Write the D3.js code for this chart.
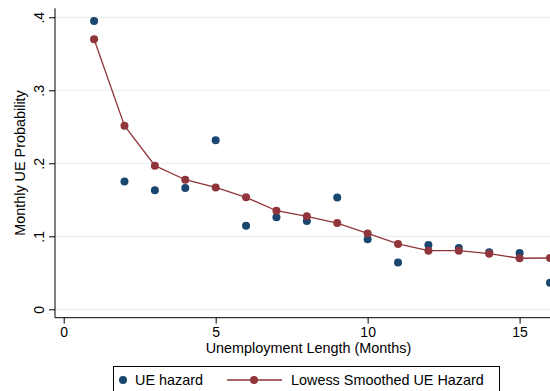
<!DOCTYPE html>
<html lang="en">
  <head>
    <meta charset="utf-8">
    <title>UE hazard by unemployment length</title>
    <script src="https://d3js.org/d3.v7.js"></script>
    <style>
      body { margin: 0; background: white; }
      text { font-family: "Liberation Sans", Arial, sans-serif; }
    </style>
  </head>
  <body>
    <script>
    // data
    const months = [1, 2, 3, 4, 5, 6, 7, 8, 9, 10, 11, 12, 13, 14, 15, 16];
    const hazard = [0.395, 0.175, 0.163, 0.166, 0.2315, 0.1145, 0.126, 0.121, 0.153, 0.096, 0.064, 0.088, 0.084, 0.078, 0.077, 0.0365];
    const lowess = [0.370, 0.2515, 0.1967, 0.1775, 0.167, 0.1534, 0.135, 0.1274, 0.1182, 0.104, 0.0895, 0.0803, 0.0803, 0.0762, 0.0699, 0.0703];
    const xTicks = [0, 5, 10, 15];
    const yTicks = [0, 0.1, 0.2, 0.3, 0.4];

    const w = 550;
    const h = 391;
    const mLeft = 55, mRight = 550, mTop = 8.3, mBottom = 317.7;
    const navy = "#1a476f";
    const maroon = "#90353b";

    const x = d3.scaleLinear().domain([-0.286, 16]).range([mLeft, mRight]);
    const y = d3.scaleLinear().domain([-0.0115, 0.4123]).range([mBottom, mTop]);

    const svg = d3.select("body")
      .append("svg")
      .attr("width", w)
      .attr("height", h);

    svg.append("rect")
      .attr("width", w)
      .attr("height", h)
      .attr("fill", "white");

    svg.append("clipPath")
      .attr("id", "plot")
      .append("rect")
      .attr("x", mLeft)
      .attr("y", mTop)
      .attr("width", mRight - mLeft)
      .attr("height", mBottom - mTop);

    // gridlines
    svg.append("g")
      .selectAll("line")
      .data(yTicks)
      .enter()
      .append("line")
      .attr("x1", mLeft)
      .attr("x2", mRight)
      .attr("y1", d => y(d))
      .attr("y2", d => y(d))
      .attr("stroke", "#e3ecee")
      .attr("stroke-width", 1);

    const fmt = d => d === 0 ? "0" : d3.format(".1f")(d).replace(/^0/, "");

    const yAxis = svg.append("g")
      .attr("transform", `translate(${mLeft},0)`)
      .call(d3.axisLeft(y).tickValues(yTicks).tickFormat(fmt).tickSize(6).tickSizeOuter(0));
    yAxis.selectAll("text")
      .attr("x", 0)
      .attr("y", 0)
      .attr("dy", "0")
      .attr("text-anchor", "middle")
      .attr("transform", "translate(-11,0) rotate(-90)")
      .style("font-size", "14px")
      .attr("fill", "black");

    const xAxis = svg.append("g")
      .attr("transform", `translate(0,${mBottom})`)
      .call(d3.axisBottom(x).tickValues(xTicks).tickFormat(d3.format("d")).tickSize(6).tickSizeOuter(0));
    xAxis.selectAll("text")
      .attr("y", 9)
      .style("font-size", "14px")
      .attr("fill", "black");

    svg.selectAll(".domain").attr("stroke", "black").attr("stroke-width", 1);
    svg.selectAll(".tick line").attr("stroke", "black");
    yAxis.select(".domain").attr("d", `M0,${mTop}V${mBottom}`);
    xAxis.select(".domain").attr("d", `M${mLeft},0H${mRight}`);

    // titles
    svg.append("text")
      .attr("x", (mLeft + mRight) / 2 + 6)
      .attr("y", 353)
      .attr("text-anchor", "middle")
      .style("font-size", "14.4px")
      .text("Unemployment Length (Months)");

    svg.append("text")
      .attr("transform", `translate(25,${(mTop + mBottom) / 2}) rotate(-90)`)
      .attr("text-anchor", "middle")
      .style("font-size", "14.4px")
      .text("Monthly UE Probability");

    const plot = svg.append("g").attr("clip-path", "url(#plot)");

    plot.selectAll(".hz")
      .data(months)
      .enter()
      .append("circle")
      .attr("class", "hz")
      .attr("cx", (d, i) => x(months[i]))
      .attr("cy", (d, i) => y(hazard[i]))
      .attr("r", 4)
      .attr("fill", navy);

    const line = d3.line()
      .x((d, i) => x(months[i]))
      .y((d, i) => y(lowess[i]));

    plot.append("path")
      .datum(lowess)
      .attr("d", line)
      .attr("fill", "none")
      .attr("stroke", maroon)
      .attr("stroke-width", 1.3);

    plot.selectAll(".lw")
      .data(months)
      .enter()
      .append("circle")
      .attr("class", "lw")
      .attr("cx", (d, i) => x(months[i]))
      .attr("cy", (d, i) => y(lowess[i]))
      .attr("r", 4)
      .attr("fill", maroon);

    // legend
    const lg = svg.append("g");
    lg.append("rect")
      .attr("x", 113.5)
      .attr("y", 366.5)
      .attr("width", 386)
      .attr("height", 40)
      .attr("fill", "white")
      .attr("stroke", "black")
      .attr("stroke-width", 1);
    lg.append("circle")
      .attr("cx", 123)
      .attr("cy", 380)
      .attr("r", 4)
      .attr("fill", navy);
    lg.append("text")
      .attr("x", 135)
      .attr("y", 385)
      .style("font-size", "14.4px")
      .text("UE hazard");
    lg.append("line")
      .attr("x1", 227)
      .attr("x2", 282)
      .attr("y1", 380)
      .attr("y2", 380)
      .attr("stroke", maroon)
      .attr("stroke-width", 1.3);
    lg.append("circle")
      .attr("cx", 254)
      .attr("cy", 380)
      .attr("r", 4)
      .attr("fill", maroon);
    lg.append("text")
      .attr("x", 291)
      .attr("y", 385)
      .style("font-size", "14.4px")
      .text("Lowess Smoothed UE Hazard");
    </script>
  </body>
</html>
